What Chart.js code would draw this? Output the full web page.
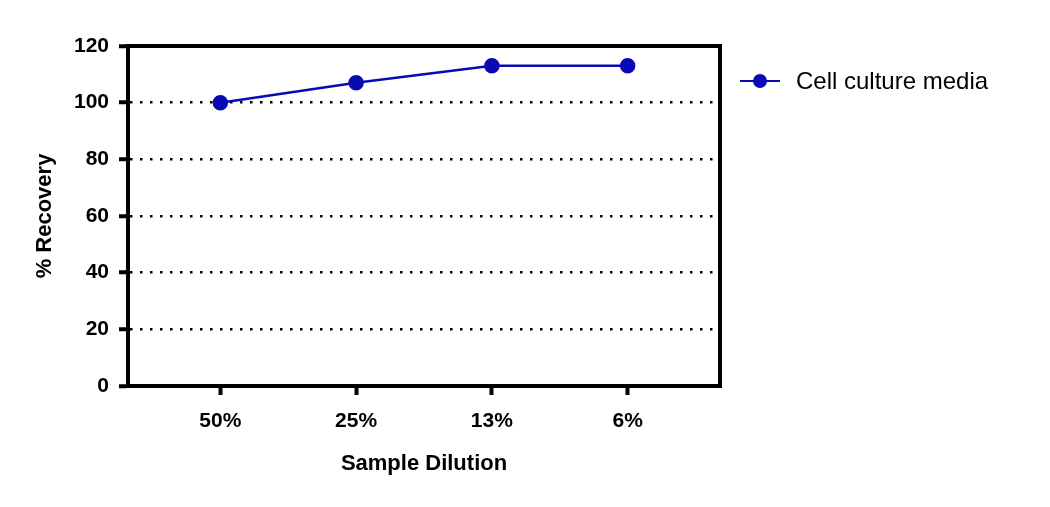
<!DOCTYPE html>
<html>
<head>
<meta charset="utf-8">
<script src="https://cdn.jsdelivr.net/npm/chart.js@4"></script>
<style>
  body { margin: 0; background: #fff; }
  #wrap { position: relative; width: 1050px; height: 507px; }
  #legend { position: absolute; left: 740px; top: 67px; font: 24px "Liberation Sans", Arial, sans-serif; color: #000; display: flex; align-items: center; }
  #legend .mk { position: relative; width: 40px; height: 14px; margin-right: 16px; }
  #legend .mk:before { content: ""; position: absolute; left: 0; right: 0; top: 6px; height: 2px; background: #0a0ab4; }
  #legend .mk:after { content: ""; position: absolute; left: 13px; top: 0; width: 14px; height: 14px; border-radius: 50%; background: #0a0ab4; }
</style>
</head>
<body>
<div id="wrap">
  <canvas id="chart" width="1050" height="507"></canvas>
  <div id="legend"><span class="mk"></span>Cell culture media</div>
</div>
<script>
var categories = ['50%', '25%', '13%', '6%'];
var recovery = [100, 107, 113, 113];
var yTicks = [0, 20, 40, 60, 80, 100, 120];

var blue = '#0a0ab4';
var font = "'Liberation Sans', Arial, sans-serif";

// frame around the plot area
var boxPlugin = {
  id: 'box',
  afterDraw: function(chart) {
    var a = chart.chartArea, c = chart.ctx;
    c.save();
    c.strokeStyle = '#000';
    c.lineWidth = 4;
    c.strokeRect(a.left, a.top, a.right - a.left, a.bottom - a.top);
    c.restore();
  }
};

var ctx = document.getElementById('chart').getContext('2d');
new Chart(ctx, {
  type: 'line',
  data: {
    datasets: [{
      label: 'Cell culture media',
      data: recovery.map(function(v, i) { return { x: i, y: v }; }),
      borderColor: blue,
      backgroundColor: blue,
      borderWidth: 2.5,
      pointRadius: 6.5,
      pointHoverRadius: 6.5
    }]
  },
  options: {
    responsive: false,
    animation: false,
    layout: { padding: { left: 28, top: 46, right: 330, bottom: 26 } },
    plugins: { legend: { display: false }, tooltip: { enabled: false } },
    scales: {
      x: {
        type: 'linear', min: -0.68, max: 3.68,
        afterBuildTicks: function(s) { s.ticks = categories.map(function(c, i) { return { value: i }; }); },
        afterFit: function(s) { s.height = 95; },
        ticks: {
          callback: function(v) { return categories[v]; },
          color: '#000', font: { family: font, size: 21, weight: 'bold' }, padding: 14, maxRotation: 0
        },
        grid: { drawOnChartArea: false, tickLength: 9, tickWidth: 4, tickColor: '#000' },
        border: { color: '#000', width: 4 },
        title: { display: true, text: 'Sample Dilution', color: '#000', font: { family: font, size: 22, weight: 'bold' }, padding: { top: 10 } }
      },
      y: {
        min: 0, max: 120,
        afterBuildTicks: function(s) { s.ticks = yTicks.map(function(v) { return { value: v }; }); },
        afterFit: function(s) { s.width = 100; },
        ticks: { color: '#000', font: { family: font, size: 21, weight: 'bold' }, padding: 10 },
        grid: {
          color: function(c) { var v = c.tick && c.tick.value; return (v === 0 || v === 120) ? 'rgba(0,0,0,0)' : '#000'; },
          lineWidth: 2.5,
          tickBorderDash: [],
          tickLength: 9, tickWidth: 4, tickColor: '#000'
        },
        border: { color: '#000', width: 4, dash: [2.5, 7.5] },
        title: { display: true, text: '% Recovery', color: '#000', font: { family: font, size: 22, weight: 'bold' }, padding: { bottom: 8 } }
      }
    }
  },
  plugins: [boxPlugin]
});
</script>
</body>
</html>
